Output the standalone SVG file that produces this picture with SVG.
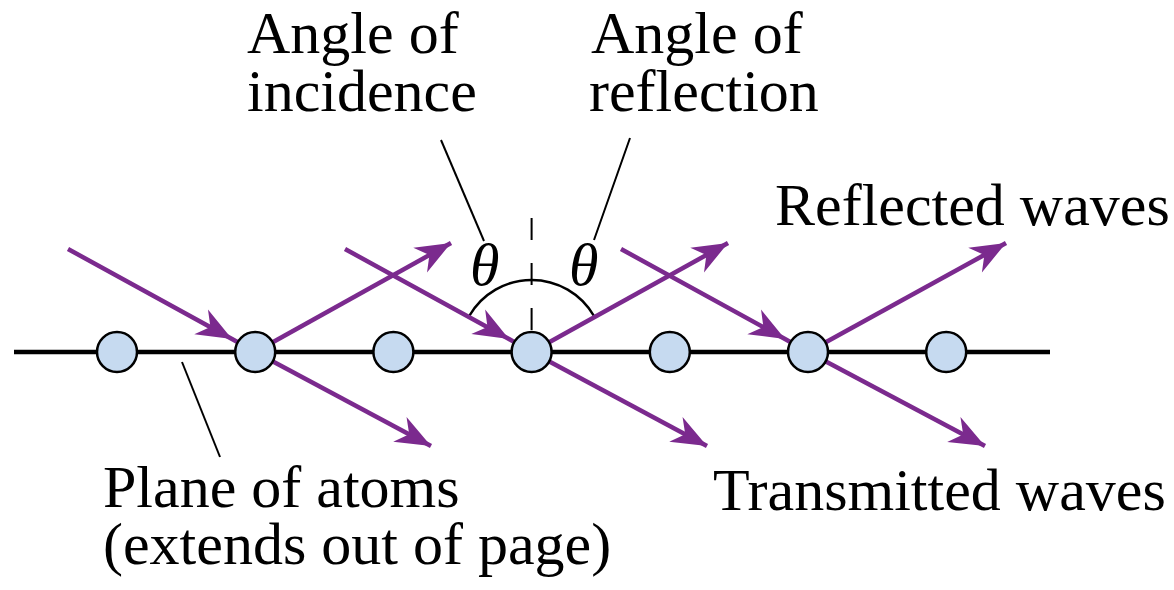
<svg xmlns="http://www.w3.org/2000/svg" width="1174" height="590" viewBox="0 0 1174 590">
<style>
  .lbl { font-family: "Liberation Serif", "Times New Roman", serif; font-size: 60px; fill: #000; }
  .theta { font-family: "Liberation Serif", "Times New Roman", serif; font-size: 60px; font-style: italic; fill: #000; }
  .ray { fill: none; stroke: #7b2a8e; stroke-width: 4.5; }
  .leader { fill: none; stroke: #000; stroke-width: 2; }
  .atom { fill: #c6daf0; stroke: #000; stroke-width: 2.5; }
</style>
<defs>
  <marker id="head" markerUnits="userSpaceOnUse" markerWidth="40" markerHeight="40" viewBox="-32 -16 34 32" refX="0" refY="0" orient="auto">
    <path d="M0,0 L-30,-12 L-21,0 L-30,12 Z" fill="#7b2a8e"/>
  </marker>
</defs>
<rect x="0" y="0" width="1174" height="590" fill="#fff"/>
<g id="plane">
  <line x1="14" y1="352" x2="1050" y2="352" stroke="#000" stroke-width="4.5"/>
</g>
<g id="normal">
  <line x1="531.6" y1="218" x2="531.6" y2="332" stroke="#000" stroke-width="2" stroke-dasharray="22 23"/>
  <path d="M469.2,316 A72,72 0 0,1 594,316" fill="none" stroke="#000" stroke-width="2.5"/>
</g>
<g id="connectors">
  <path class="ray" d="M68,249 L232,339 L255.2,352" marker-mid="url(#head)"/>
  <path class="ray" d="M255.2,352 L451,243" marker-end="url(#head)"/>
  <path class="ray" d="M255.2,352 L431,446" marker-end="url(#head)"/>
  <path class="ray" d="M345,249 L509,339 L531.6,352" marker-mid="url(#head)"/>
  <path class="ray" d="M531.6,352 L728,243" marker-end="url(#head)"/>
  <path class="ray" d="M531.6,352 L707,446" marker-end="url(#head)"/>
  <path class="ray" d="M621,249 L785,339 L808,352" marker-mid="url(#head)"/>
  <path class="ray" d="M808,352 L1006,243" marker-end="url(#head)"/>
  <path class="ray" d="M808,352 L985,446" marker-end="url(#head)"/>
  <line class="leader" x1="441" y1="140" x2="484" y2="241"/>
  <line class="leader" x1="630" y1="138" x2="594" y2="240"/>
  <line class="leader" x1="182" y1="362" x2="220" y2="457"/>
</g>
<g id="atoms">
  <circle class="atom" cx="117" cy="352" r="20"/>
  <circle class="atom" cx="255.2" cy="352" r="20"/>
  <circle class="atom" cx="393.4" cy="352" r="20"/>
  <circle class="atom" cx="531.6" cy="352" r="20"/>
  <circle class="atom" cx="669.8" cy="352" r="20"/>
  <circle class="atom" cx="808" cy="352" r="20"/>
  <circle class="atom" cx="946.2" cy="352" r="20"/>
</g>
<g id="label-incidence">
  <text class="lbl" x="247" y="53">Angle of</text>
  <text class="lbl" x="247" y="111">incidence</text>
</g>
<g id="label-reflection">
  <text class="lbl" x="591" y="53">Angle of</text>
  <text class="lbl" x="589" y="111">reflection</text>
</g>
<g id="theta-labels">
  <text class="theta" x="470" y="285">θ</text>
  <text class="theta" x="569" y="285">θ</text>
</g>
<g id="label-reflected">
  <text class="lbl" x="775" y="225">Reflected waves</text>
</g>
<g id="label-transmitted">
  <text class="lbl" x="713" y="510">Transmitted waves</text>
</g>
<g id="label-plane">
  <text class="lbl" x="103" y="507">Plane of atoms</text>
  <text class="lbl" x="103" y="564">(extends out of page)</text>
</g>
</svg>
